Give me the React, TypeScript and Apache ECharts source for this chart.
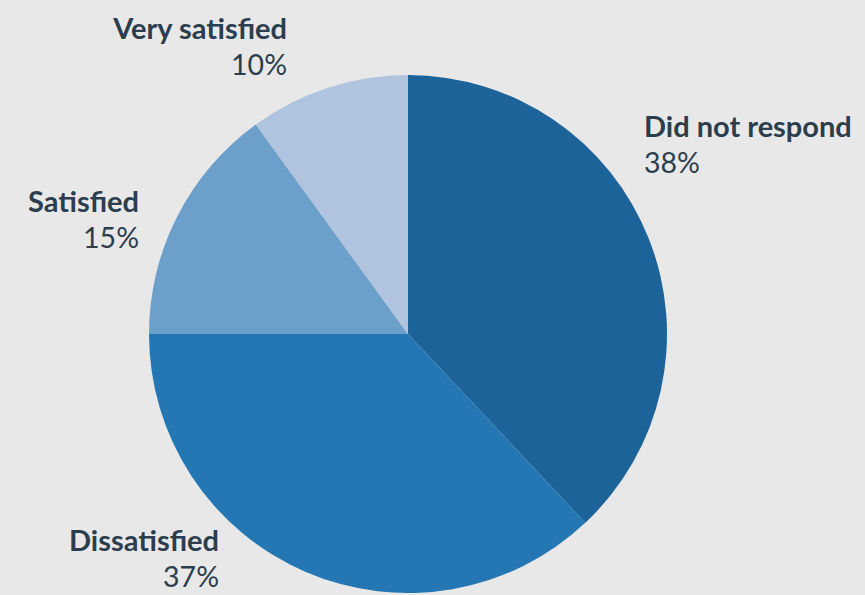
import React, { useEffect, useRef } from "react";
import * as echarts from "echarts";

const categories = ["Did not respond", "Dissatisfied", "Satisfied", "Very satisfied"];
const values = [38, 37, 15, 10];
const colors = ["#1c6399", "#2477b3", "#6d9fcb", "#b0c4e0"];
// label block anchors (layout only)
const labelAnchors = [
  { x: 644, y: 136, align: "left" },
  { x: 219, y: 550, align: "right" },
  { x: 139, y: 211, align: "right" },
  { x: 287, y: 38, align: "right" },
];

export default function App() {
  const ref = useRef<HTMLDivElement>(null);
  useEffect(() => {
    document.body.style.margin = "0";
    const chart = echarts.init(ref.current!, null, { renderer: "svg" });
    chart.setOption({
      animation: false,
      backgroundColor: "#e8e8e8",
      series: [
        {
          type: "pie",
          center: [408, 334],
          radius: 259,
          startAngle: 90,
          clockwise: true,
          data: categories.map((c, i) => ({
            name: c,
            value: values[i],
            itemStyle: { color: colors[i] },
          })),
          labelLine: { show: false },
          label: {
            show: true,
            position: "outside",
            overflow: "none",
            formatter: (p: any) => `{n|${p.name}}\n{p|${p.value}%}`,
            rich: {
              n: {
                fontFamily: "Lato",
                fontWeight: "bold",
                fontSize: 29,
                color: "#2c3e4d",
                lineHeight: 52,
              },
              p: {
                fontFamily: "Lato",
                fontSize: 28.5,
                color: "#2c3e4d",
                lineHeight: 22,
              },
            },
          },
          labelLayout: (params: any) => {
            const a = labelAnchors[params.dataIndex];
            return { x: a.x, y: a.y, align: a.align, verticalAlign: "middle" };
          },
        },
      ],
    });
    return () => chart.dispose();
  }, []);
  return (
    <div
      ref={ref}
      style={{ position: "fixed", left: 0, top: 0, width: 865, height: 595 }}
    />
  );
}
